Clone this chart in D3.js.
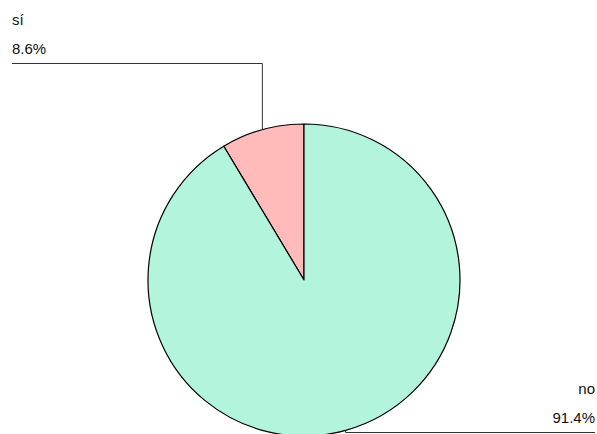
<!DOCTYPE html>
<html>
<head>
<meta charset="utf-8">
<script src="https://cdn.jsdelivr.net/npm/d3@7/dist/d3.min.js"></script>
<style>
  html, body { margin: 0; padding: 0; background: #fff; }
  svg { display: block; }
  text { font-family: "Liberation Sans", Arial, sans-serif; font-size: 15px; fill: #111; }
</style>
</head>
<body>
<svg id="chart" width="597" height="434"></svg>
<script>
// Answers and their shares
const categories = ["sí", "no"];
const values = [8.6, 91.4];
const colors = ["#ffbaba", "#b3f5dc"];

const width = 597, height = 434;
const cx = 304, cy = 280, radius = 156;

const svg = d3.select("#chart");
const g = svg.append("g").attr("transform", `translate(${cx},${cy})`);

// Slices start at 12 o'clock and run counter-clockwise
const pie = d3.pie()
  .value(d => d.value)
  .sort(null)
  .startAngle(0)
  .endAngle(-2 * Math.PI);

const data = categories.map((c, i) => ({ label: c, value: values[i], color: colors[i] }));
const arcs = pie(data);
const arc = d3.arc().innerRadius(0).outerRadius(radius);

g.selectAll("path.slice")
  .data(arcs)
  .join("path")
  .attr("class", "slice")
  .attr("d", arc)
  .attr("fill", d => d.data.color)
  .attr("stroke", "#000")
  .attr("stroke-width", 1.2)
  .attr("stroke-linejoin", "round");

// Leader lines and labels
const fmt = v => v.toFixed(1) + "%";
arcs.forEach((a, i) => {
  const mid = (a.startAngle + a.endAngle) / 2;
  const ex = cx + radius * Math.sin(mid);
  const ey = cy - radius * Math.cos(mid);
  const left = ex < cx;
  let pts, tx, anchor, ly;
  if (left) {
    ly = 63.5;
    tx = 12;
    anchor = "start";
  } else {
    ly = 432.5;
    tx = 595;
    anchor = "end";
  }
  pts = [[ex, ey], [ex, ly], [tx, ly]];
  svg.append("path")
    .attr("d", d3.line()(pts))
    .attr("fill", "none")
    .attr("stroke", "#333")
    .attr("stroke-width", 1);
  svg.append("text")
    .attr("x", tx).attr("y", ly - 39)
    .attr("text-anchor", anchor)
    .text(a.data.label);
  svg.append("text")
    .attr("x", tx).attr("y", ly - 10)
    .attr("text-anchor", anchor)
    .text(fmt(a.data.value));
});
</script>
</body>
</html>
